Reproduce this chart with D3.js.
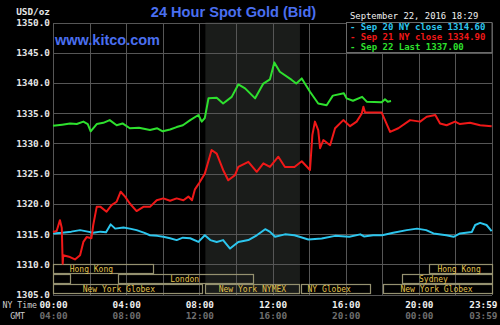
<!DOCTYPE html>
<html>
<head>
<meta charset="utf-8">
<script src="https://cdn.jsdelivr.net/npm/d3@7"></script>
<style>
  html, body { margin: 0; padding: 0; background: #000; overflow: hidden; }
  svg { display: block; }
</style>
</head>
<body>
<svg id="chart" width="500" height="325"></svg>
<script>
// Spot gold bid, three trading days, [NY hour, USD/oz]
const sep20 = [[0,1315.1],[0.5,1315.2],[1.0,1315.4],[1.48,1315.65],[1.9,1315.4],[2.2,1315.2],[2.6,1315.4],[2.9,1315.3],[3.15,1316.6],[3.4,1315.9],[3.85,1316.1],[4.2,1315.9],[4.57,1315.65],[5.0,1315.2],[5.3,1314.8],[5.7,1314.7],[6.03,1314.55],[6.4,1314.3],[6.76,1314.0],[7.1,1314.4],[7.5,1314.3],[7.95,1313.7],[8.3,1314.8],[8.6,1314.0],[8.95,1313.7],[9.3,1314.0],[9.68,1312.6],[10.13,1313.7],[10.68,1314.0],[11.14,1314.8],[11.6,1315.8],[11.85,1315.4],[12.14,1314.55],[12.68,1314.95],[13.2,1314.8],[13.96,1314.1],[14.69,1314.25],[15.42,1314.7],[16.2,1314.55],[16.8,1314.95],[17.0,1314.6],[17.5,1314.8],[18.0,1314.8],[18.6,1315.2],[19.34,1315.65],[19.9,1315.9],[20.4,1315.65],[20.8,1315.1],[21.5,1314.8],[21.9,1314.55],[22.25,1315.1],[22.9,1315.35],[23.08,1316.5],[23.35,1316.85],[23.7,1316.5],[23.98,1315.5]];
const sep21 = [[0,1315.35],[0.2,1315.5],[0.38,1317.3],[0.48,1316.0],[0.53,1310.1],[0.56,1311.5],[0.93,1311.2],[1.2,1310.8],[1.48,1311.5],[1.66,1313.7],[1.84,1314.5],[2.1,1314.3],[2.2,1316.5],[2.39,1319.5],[2.6,1319.5],[2.93,1318.7],[3.2,1319.8],[3.48,1320.35],[3.7,1322.0],[3.94,1321.2],[4.2,1320.05],[4.57,1318.8],[4.94,1319.5],[5.3,1319.5],[5.67,1320.6],[6.03,1320.9],[6.4,1320.5],[6.76,1320.9],[7.13,1320.6],[7.4,1321.2],[7.6,1320.6],[7.76,1322.4],[8.0,1323.5],[8.3,1325.0],[8.67,1328.9],[8.95,1328.3],[9.3,1325.6],[9.58,1323.9],[9.95,1324.75],[10.13,1326.1],[10.68,1326.95],[11.14,1325.3],[11.5,1326.7],[11.86,1326.1],[12.32,1327.8],[12.68,1326.1],[13.2,1326.1],[13.6,1327.05],[14.05,1325.6],[14.18,1331.4],[14.32,1333.6],[14.5,1332.2],[14.6,1329.2],[14.78,1330.55],[15.15,1329.7],[15.42,1332.5],[15.87,1333.85],[16.24,1332.85],[16.6,1333.6],[16.88,1334.95],[16.97,1336.05],[17.06,1335.1],[17.97,1335.1],[18.43,1331.9],[18.88,1332.5],[19.52,1333.85],[20.07,1333.6],[20.43,1334.4],[20.9,1334.7],[21.16,1333.3],[21.52,1333.0],[21.98,1333.6],[22.25,1333.2],[22.8,1333.4],[23.35,1333.0],[23.98,1332.85]];
const sep22 = [[0,1332.9],[0.5,1333.1],[0.93,1333.3],[1.3,1333.2],[1.66,1333.6],[1.9,1333.2],[2.06,1332.0],[2.39,1333.2],[2.75,1333.4],[3.1,1333.85],[3.48,1333.0],[3.8,1333.3],[4.2,1332.5],[4.7,1332.6],[5.3,1332.2],[5.7,1332.5],[6.0,1332.0],[6.4,1332.3],[6.76,1332.7],[7.1,1333.0],[7.5,1333.85],[7.95,1334.7],[8.13,1333.6],[8.3,1334.2],[8.5,1337.45],[8.95,1337.55],[9.3,1336.6],[9.77,1337.7],[10.13,1339.75],[10.5,1339.1],[11.05,1337.45],[11.5,1339.9],[11.86,1340.6],[12.1,1343.4],[12.4,1341.85],[13.05,1340.5],[13.3,1339.9],[13.6,1340.75],[14.05,1338.55],[14.5,1336.6],[14.96,1336.3],[15.3,1337.9],[15.9,1338.3],[16.05,1337.45],[16.4,1337.05],[16.9,1337.7],[17.15,1336.9],[17.97,1336.8],[18.15,1337.3],[18.3,1336.9],[18.48,1337.0]];

const seriesNames = ["Sep 20 NY close", "Sep 21 NY close", "Sep 22 Last"];
const seriesLast  = [1314.60, 1334.90, 1337.00];
const seriesColors = ["#2cc6ee", "#f01818", "#2ee02e"];

const yTicks = [1305, 1310, 1315, 1320, 1325, 1330, 1335, 1340, 1345, 1350];
const xGridHours = [0, 2, 4, 6, 8, 10, 12, 14, 16, 18, 20, 22, 24];
const xTickHours = [0, 4, 8, 12, 16, 20, 24];
const nyTimeLabels = ["00:00", "04:00", "08:00", "12:00", "16:00", "20:00", "23:59"];
const gmtLabels    = ["04:00", "08:00", "12:00", "16:00", "20:00", "00:00", "03:59"];

// Market sessions: [name, row, start hour, end hour, label hour]
const sessions = [
  ["Hong Kong", 0, 0, 5.47, 2.1],
  ["Hong Kong", 0, 20.5, 24, 22.2],
  ["", 1, 0, 0.93, 0.5],
  ["London", 1, 3.5, 10.93, 7.2],
  ["Sydney", 1, 19.0, 24, 20.8],
  ["New York Globex", 2, 0, 8.15, 3.6],
  ["New York NYMEX", 2, 8.25, 13.45, 10.9],
  ["NY Globex", 2, 13.5, 17.33, 15.1],
  ["New York Globex", 2, 18.0, 24, 20.97]
];
const nymexHours = [8.33, 13.5];

const title = "24 Hour Spot Gold (Bid)";
const site = "www.kitco.com";
const stamp = "September 22, 2016 18:29";

const svg = d3.select("#chart");
const W = 500, H = 325;
const plotL = 53, plotR = 492, plotT = 22.5, plotB = 294.5;

const x = d3.scaleLinear().domain([0, 24]).range([plotL, plotR]);
const y = d3.scaleLinear().domain([1305, 1350]).range([plotB, plotT]);

const mono = "'DejaVu Sans Mono', 'Liberation Mono', monospace";
const sans = "'Liberation Sans', Arial, sans-serif";

svg.append("rect").attr("width", W).attr("height", H).attr("fill", "#000");

// NYMEX pit hours
svg.append("rect")
  .attr("x", x(nymexHours[0])).attr("y", plotT)
  .attr("width", x(nymexHours[1]) - x(nymexHours[0]))
  .attr("height", plotB - plotT)
  .attr("fill", "#1a1c1a");

// grid
const grid = svg.append("g").attr("stroke", "#565656").attr("stroke-width", 1).attr("shape-rendering", "crispEdges");
grid.selectAll("line.h").data(yTicks).join("line").attr("class", "h")
  .attr("x1", plotL).attr("x2", plotR)
  .attr("y1", d => Math.round(y(d)) + 0.5).attr("y2", d => Math.round(y(d)) + 0.5);
grid.selectAll("line.v").data(xGridHours).join("line").attr("class", "v")
  .attr("y1", plotT).attr("y2", plotB)
  .attr("x1", d => Math.round(x(d)) + 0.5).attr("x2", d => Math.round(x(d)) + 0.5);

// market session bars
const rowH = (y(1305) - y(1310)) / 3;
const sess = svg.append("g");
sess.selectAll("rect").data(sessions).join("rect")
  .attr("x", d => Math.round(x(d[2])) + 0.5 + (d[2] > 0 ? 1 : 0))
  .attr("y", d => Math.round(y(1310) + d[1] * rowH) + 0.5)
  .attr("width", d => Math.round(x(d[3]) - x(d[2])) - (d[2] > 0 ? 1 : 0))
  .attr("height", Math.round(rowH) - 1)
  .attr("fill", "none")
  .attr("stroke", "#959170")
  .attr("stroke-width", 1.2);
sess.selectAll("text").data(sessions.filter(d => d[0])).join("text")
  .attr("x", d => x(d[4]))
  .attr("y", d => y(1310) + d[1] * rowH + rowH / 2 + 3)
  .attr("text-anchor", "middle")
  .attr("fill", "#e2c24e")
  .attr("font-family", mono)
  .attr("font-size", 8)
  .text(d => d[0]);

// price lines
const line = d3.line().x(d => x(d[0])).y(d => y(d[1]));
[sep20, sep21, sep22].forEach((s, i) => {
  svg.append("path").datum(s)
    .attr("d", line)
    .attr("fill", "none")
    .attr("stroke", seriesColors[i])
    .attr("stroke-width", 2)
    .attr("stroke-linejoin", "round");
});

// y axis
const yAxis = svg.append("g")
  .attr("transform", `translate(${plotL},0)`)
  .call(d3.axisLeft(y).tickValues(yTicks).tickSize(0).tickPadding(3).tickFormat(d3.format(".1f")));
yAxis.select(".domain").remove();
yAxis.selectAll("text")
  .attr("fill", "#e6e6e6").attr("font-family", mono).attr("font-size", 9.4).attr("font-weight", "bold");

svg.append("text").attr("x", 50).attr("y", 14.5).attr("text-anchor", "end")
  .attr("fill", "#e6e6e6").attr("font-family", mono).attr("font-size", 9.4).attr("font-weight", "bold")
  .text("USD/oz");

// x axis: NY time and GMT rows
const xAxisNY = svg.append("g")
  .attr("transform", `translate(0,${plotB})`)
  .call(d3.axisBottom(x).tickValues(xTickHours).tickSize(0).tickPadding(0)
    .tickFormat((d, i) => nyTimeLabels[i]));
xAxisNY.select(".domain").remove();
xAxisNY.selectAll("text")
  .attr("dy", null).attr("y", 13)
  .attr("fill", "#eeeeee").attr("font-family", mono).attr("font-size", 9.4).attr("font-weight", "bold");

const xAxisGMT = svg.append("g")
  .attr("transform", `translate(0,${plotB})`)
  .call(d3.axisBottom(x).tickValues(xTickHours).tickSize(0).tickPadding(0)
    .tickFormat((d, i) => gmtLabels[i]));
xAxisGMT.select(".domain").remove();
xAxisGMT.selectAll("text")
  .attr("dy", null).attr("y", 24)
  .attr("fill", "#6e6e6e").attr("font-family", mono).attr("font-size", 9.4).attr("font-weight", "bold");

// keep the last label inside the frame
[xAxisNY, xAxisGMT].forEach(g => g.selectAll(".tick").filter(d => d === 24)
  .select("text").attr("text-anchor", "end").attr("x", 5));

svg.append("text").attr("x", 37).attr("y", plotB + 13).attr("text-anchor", "end")
  .attr("fill", "#cfcfcf").attr("font-family", mono).attr("font-size", 8.2)
  .text("NY Time");
svg.append("text").attr("x", 25).attr("y", plotB + 24).attr("text-anchor", "end")
  .attr("fill", "#cfcfcf").attr("font-family", mono).attr("font-size", 8.2)
  .text("GMT");

// titles
svg.append("text").attr("x", 233.5).attr("y", 17.3).attr("text-anchor", "middle")
  .attr("fill", "#4a6ff0").attr("font-family", sans).attr("font-size", 14.6).attr("font-weight", "bold")
  .text(title);
svg.append("text").attr("x", 55).attr("y", 45).attr("fill", "#4a6ff0")
  .attr("font-family", sans).attr("font-size", 14.5).attr("font-weight", "bold")
  .text(site);

// timestamp + legend
svg.append("text").attr("x", 350).attr("y", 19).attr("fill", "#f0f0f0")
  .attr("font-family", mono).attr("font-size", 8.9)
  .text(stamp);
svg.append("rect").attr("x", 346.5).attr("y", 22.5).attr("width", 145.5).attr("height", 30)
  .attr("fill", "#000").attr("stroke", "#6a6a6a").attr("stroke-width", 1);
const leg = svg.append("g");
leg.selectAll("text").data(seriesNames).join("text")
  .attr("x", 350).attr("y", (d, i) => 30.3 + i * 9.7)
  .attr("fill", (d, i) => seriesColors[i])
  .attr("font-family", mono).attr("font-size", 9).attr("font-weight", "bold")
  .attr("xml:space", "preserve")
  .text((d, i) => "- " + d + " " + seriesLast[i].toFixed(2));
</script>
</body>
</html>
